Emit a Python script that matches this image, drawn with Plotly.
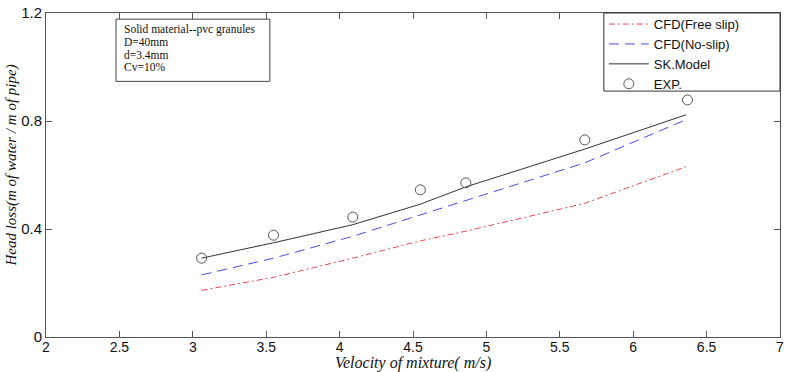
import plotly.graph_objects as go

velocity = [3.06, 3.55, 4.09, 4.55, 4.86, 5.67, 6.36]
cfd_free_slip = [0.173, 0.221, 0.292, 0.356, 0.392, 0.495, 0.631]
cfd_no_slip = [0.230, 0.292, 0.373, 0.452, 0.504, 0.645, 0.805]
sk_model = [0.292, 0.349, 0.416, 0.492, 0.556, 0.696, 0.823]
exp_velocity = [3.06, 3.55, 4.09, 4.55, 4.86, 5.67, 6.37]
exp_headloss = [0.292, 0.377, 0.444, 0.545, 0.571, 0.730, 0.878]

x_ticks = [2, 2.5, 3, 3.5, 4, 4.5, 5, 5.5, 6, 6.5, 7]
y_ticks = [0, 0.4, 0.8, 1.2]
info_lines = ["Solid material--pvc granules", "D=40mm", "d=3.4mm", "Cv=10%"]

fig = go.Figure()
fig.add_trace(go.Scatter(x=velocity, y=cfd_free_slip, mode="lines", name="CFD(Free slip)",
                         line=dict(color="#e8474f", width=1, dash="6px,3px,2px,3px")))
fig.add_trace(go.Scatter(x=velocity, y=cfd_no_slip, mode="lines", name="CFD(No-slip)",
                         line=dict(color="#4a4aee", width=1, dash="10px,6px")))
fig.add_trace(go.Scatter(x=velocity, y=sk_model, mode="lines", name="SK.Model",
                         line=dict(color="#333333", width=1)))
fig.add_trace(go.Scatter(x=exp_velocity, y=exp_headloss, mode="markers", name="EXP.",
                         marker=dict(symbol="circle-open", size=10, color="#555555",
                                     line=dict(width=1))))

axis_common = dict(showgrid=False, zeroline=False, showline=True, linecolor="#555555",
                   linewidth=1, mirror="allticks", ticks="inside", ticklen=6, automargin=False,
                   tickcolor="#555555")

fig.update_xaxes(range=[2, 7], tickvals=x_ticks, ticktext=[f"{v:g}" for v in x_ticks],
                 tickfont=dict(family="Liberation Sans, Arial", size=14, color="#111"),
                 ticklabelstandoff=-3, **axis_common)
fig.update_yaxes(range=[0, 1.2], tickvals=y_ticks, ticktext=[f"{v:g}" for v in y_ticks],
                 tickfont=dict(family="Liberation Sans, Arial", size=15, color="#111"),
                 **axis_common)

# axis titles as annotations
fig.add_annotation(xref="paper", yref="paper", x=0.5, y=0, yshift=-26, xanchor="center", yanchor="middle",
                   text="<i>Velocity of mixture( m/s)</i>", showarrow=False,
                   font=dict(family="Liberation Serif, Times New Roman", size=16, color="#111"))
fig.add_annotation(xref="paper", yref="paper", x=0, xshift=-34, y=0.529, xanchor="center", yanchor="middle",
                   text="<i>Head loss(m of water / m of pipe)</i>", showarrow=False, textangle=-90,
                   font=dict(family="Liberation Serif, Times New Roman", size=15, color="#111"))

# info box
fig.add_shape(type="rect", xref="paper", yref="paper", x0=0.0954, x1=0.305, y0=0.789, y1=0.981,
              line=dict(color="#444", width=1), fillcolor="white", layer="above")
info_y = [0.950, 0.911, 0.871, 0.832]
for txt, yy in zip(info_lines, info_y):
    fig.add_annotation(xref="paper", yref="paper", x=0.103, y=yy, xanchor="left", yanchor="middle",
                       text=txt, showarrow=False,
                       font=dict(family="Liberation Serif, Times New Roman", size=11.5, color="#111"))

# legend frame
fig.add_shape(type="rect", xref="paper", yref="paper", x0=0.760, x1=1.0, y0=0.759, y1=1.0,
              line=dict(color="#333", width=1), fillcolor="white", layer="above")

fig.update_layout(
    width=791, height=372,
    margin=dict(l=46, r=11, t=9, b=35),
    paper_bgcolor="white", plot_bgcolor="white",
    legend=dict(x=0.760, y=1.012, xanchor="left", yanchor="top", borderwidth=0,
                bgcolor="rgba(0,0,0,0)", font=dict(family="Liberation Sans, Arial", size=13, color="#111"),
                tracegroupgap=0, itemwidth=40),
)

fig.write_html("out.html")
